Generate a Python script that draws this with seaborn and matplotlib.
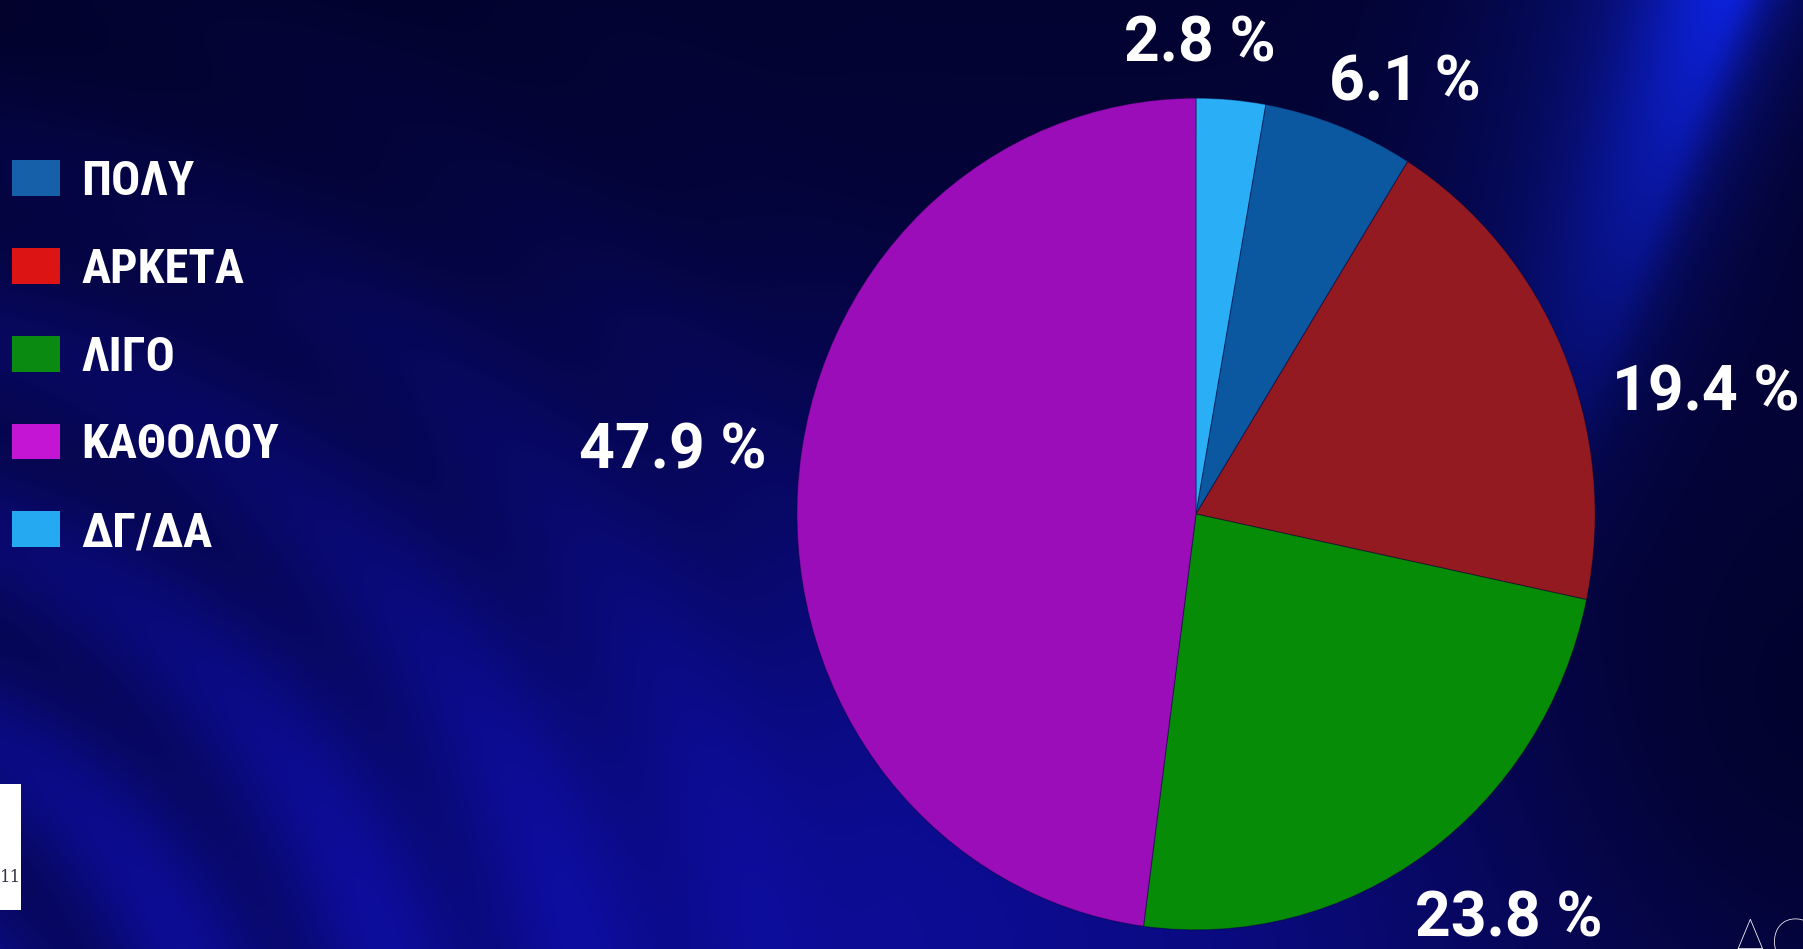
import numpy as np
import matplotlib
matplotlib.use("Agg")
import matplotlib.pyplot as plt
from matplotlib.patches import Patch, Rectangle
import seaborn as sns

# ── Data ──────────────────────────────────────────────────────────────────────

categories   = ["ΔΓ/ΔΑ", "ΠΟΛΥ", "ΑΡΚΕΤΑ", "ΛΙΓΟ", "ΚΑΘΟΛΟΥ"]   # clockwise from top
shares       = [2.8, 6.1, 19.4, 23.8, 47.9]
legend_order = ["ΠΟΛΥ", "ΑΡΚΕΤΑ", "ΛΙΓΟ", "ΚΑΘΟΛΟΥ", "ΔΓ/ΔΑ"]

pie_colors = {"ΔΓ/ΔΑ": "#2aaef6", "ΠΟΛΥ": "#0b57a0", "ΑΡΚΕΤΑ": "#941a22",
              "ΛΙΓΟ": "#078c07", "ΚΑΘΟΛΟΥ": "#9b0db8"}
legend_colors = {"ΠΟΛΥ": "#1560a8", "ΑΡΚΕΤΑ": "#dc1414", "ΛΙΓΟ": "#0b8a12",
                 "ΚΑΘΟΛΟΥ": "#c414d4", "ΔΓ/ΔΑ": "#25aaf2"}

# label placement: radial distance and angular shift (deg, ccw) from wedge middle
label_dist  = [1.13, 1.16, 1.31, 1.25, 1.32]
label_shift = [4.6, -5.7, -10.3, 3.5, -2.8]

# ── Style ─────────────────────────────────────────────────────────────────────

sns.set_theme(style="white")
plt.rcParams["font.family"] = ["Roboto", "DejaVu Sans"]
legend_font = ["Roboto Condensed", "Noto Sans", "DejaVu Sans"]

W, H = 1803, 949
fig = plt.figure(figsize=(W / 100, H / 100), dpi=100)

# ── Background glow ───────────────────────────────────────────────────────────

yy, xx = np.mgrid[0:H, 0:W].astype(float)
u, v = xx / W, yy / H
glow  = np.exp(-((u - 0.40) ** 2 / 0.30 + (v - 1.0) ** 2 / 0.30))
right_dark = np.exp(-((u - 1.0) ** 2 / 0.03 + (v - 0.75) ** 2 / 0.12))
# bright diagonal band, top right
d = np.abs((xx - 1725) * 400 + (yy - 0) * 150) / np.hypot(400, 150)
side = np.where((xx - 1725) * 400 + yy * 150 > 0, 2.2, 1.0)   # falls off faster on the right
band = np.exp(-(d * side / 80) ** 2) * np.clip(1 - yy / 520, 0, 1)
wide = np.exp(-(d * side / 200) ** 2) * np.clip(1 - yy / 600, 0, 1)
# swirl streaks on the left
r = np.hypot(xx + 250, yy - 1150)
streak = 0.5 + 0.5 * np.cos(2 * np.pi * r / 190)
left = np.clip(1 - u * 2.0, 0, 1)
top_dark = np.clip(v * 3.0, 0, 1)
inten = (0.10 + 0.80 * glow * top_dark) * (1 - 0.6 * streak * left) + 0.22 * left * top_dark
inten = np.clip(inten * (1 - 0.75 * right_dark), 0, 1)
dark = np.array([2, 2, 38]) / 255
blue = np.array([14, 14, 165]) / 255
bright = np.array([12, 30, 200]) / 255
img = dark + inten[..., None] * (blue - dark)
img = img + (0.5 * wide + 0.6 * band)[..., None] * (bright - img)
img = np.clip(img, 0, 1)

bg = fig.add_axes([0, 0, 1, 1])
bg.imshow(img, aspect="auto", extent=(0, 1, 0, 1), interpolation="bilinear")
bg.axis("off")

# ── Pie ───────────────────────────────────────────────────────────────────────

ax = fig.add_axes([0, 0, 1, 1])
ax.patch.set_alpha(0)
wedges, _ = ax.pie(shares, colors=[pie_colors[c] for c in categories],
                   startangle=90, counterclock=False,
                   wedgeprops=dict(linewidth=0.8, edgecolor=(0, 0, 0.2, 0.4)))
ax.set_aspect("auto")
ax.set_xlim(-2.997, 1.521)
ax.set_ylim(-1.046, 1.236)
ax.axis("off")

for w, val, dist, s in zip(wedges, shares, label_dist, label_shift):
    ang = np.deg2rad((w.theta1 + w.theta2) / 2 + s)
    ax.text(dist * np.cos(ang), dist * np.sin(ang), f"{val} %", ha="center", va="center",
            color="white", fontsize=45, fontweight="bold", clip_on=False)

# ── Legend ────────────────────────────────────────────────────────────────────

handles = [Patch(facecolor=legend_colors[c], edgecolor="none") for c in legend_order]
ax.legend(handles, legend_order, loc="upper left",
          bbox_to_anchor=(12 / W, 1 - 159 / H), bbox_transform=fig.transFigure,
          frameon=False, labelcolor="white",
          prop={"family": legend_font, "weight": "heavy", "stretch": "condensed", "size": 35},
          handlelength=0.99, handleheight=0.76, handletextpad=0.44,
          labelspacing=0.86, borderpad=0, borderaxespad=0)

# ── Corner marks ──────────────────────────────────────────────────────────────

fig.add_artist(Rectangle((0, 1 - 910 / H), 21 / W, 126 / H, transform=fig.transFigure,
                         facecolor="white", edgecolor="none"))
fig.text(11 / W, 1 - 877 / H, "11", ha="center", va="center", fontsize=12,
         color="#333344", family="DejaVu Serif")
fig.text(1730 / W, 1 - 918 / H, "ACT", ha="left", va="top", fontsize=46,
         color="white", family="Lato", fontweight="light")

fig.savefig("out.png", dpi=100)
